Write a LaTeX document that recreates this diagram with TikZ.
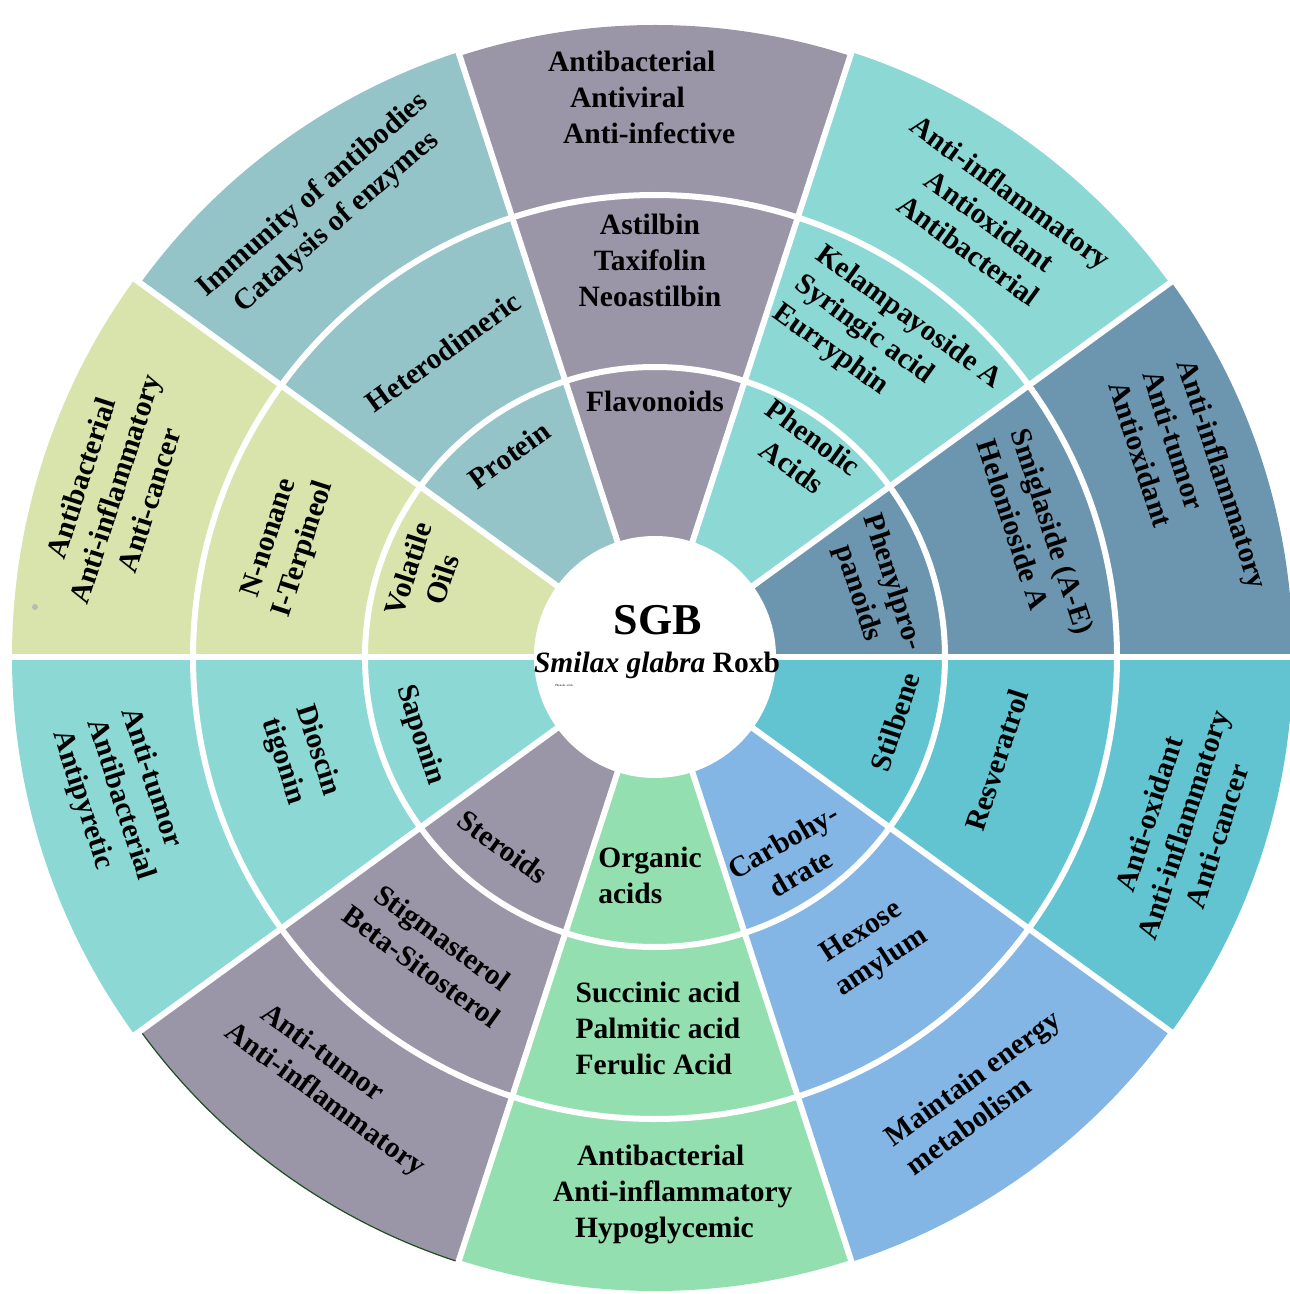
\documentclass[tikz,border=0pt]{standalone}
\usepackage{fontspec}
\setmainfont{Liberation Serif}
\begin{document}
\begin{tikzpicture}[x=1pt,y=1pt]
\definecolor{cflav}{HTML}{9A96A8}
\definecolor{cphen}{HTML}{8CD8D4}
\definecolor{cppd}{HTML}{6C96AF}
\definecolor{cstil}{HTML}{62C3D1}
\definecolor{ccarb}{HTML}{83B5E5}
\definecolor{corg}{HTML}{93DFB0}
\definecolor{cster}{HTML}{9A96A8}
\definecolor{csap}{HTML}{8CD8D4}
\definecolor{cvol}{HTML}{D8E4AB}
\definecolor{cprot}{HTML}{94C3C8}
\definecolor{cedge}{HTML}{1F4D1F}
\tikzset{
  txt/.style={font=\bfseries\fontsize{29.5}{36}\selectfont, align=center, inner sep=0pt},
  gap/.style={white, line width=6pt}
}
\useasboundingbox (-655,-637) rectangle (635,657);
% sectors
\foreach \a/\c/\r in {72/cflav/632, 36/cphen/636, 0/cppd/638, -36/cstil/638, -72/ccarb/636, -108/corg/634, -144/cster/636, 180/csap/643, 144/cvol/643, 108/cprot/636}
  \fill[\c] (0,0) -- (\a:\r) arc[start angle=\a, end angle=\a+36, radius=\r] -- cycle;
\draw[cedge, line width=1.2pt] (216:636) arc[start angle=216, end angle=252, radius=636];
% ring gaps
\draw[gap] (0,0) circle[radius=290];
\draw[gap] (0,0) circle[radius=462];
\foreach \a in {0,36,...,324} \draw[gap] (0,0) -- (\a:660);
\fill[gray!55] (-620,50) circle[radius=3];
% centre
\node[circle, fill=white, minimum size=242pt, inner sep=0pt] (core) at (0,0) {};
\node[font=\bfseries\fontsize{44}{50}\selectfont, inner sep=0pt] (sgb) at (3,37) {SGB};
\node[font=\bfseries\fontsize{29.5}{36}\selectfont, inner sep=0pt] (species) at (2,-8) {\textit{Smilax glabra} Roxb};
\node[font=\fontsize{3}{4}\selectfont, inner sep=0pt] (tiny) at (-91,-28) {Phenolic acids};
% Flavonoids
\node[txt] (fl1) at (0,256) {Flavonoids};
\node[txt] (fl2) at (-5,397) {Astilbin\\Taxifolin\\Neoastilbin};
\node[txt, align=left, anchor=west] (fl3) at (-107,560) {Antibacterial\\\hspace*{22pt}Antiviral\\\hspace*{15pt}Anti-infective};
% Phenolic acids
\node[txt, rotate=-36] (ph1) at (148,205) {Phenolic\\Acids};
\node[txt, rotate=-36, align=left] (ph2) at (232,310) {Kelampayoside A\\Syringic acid\\Eurryphin};
\node[txt, rotate=-36] (ph3) at (335,436) {Anti-inflammatory\\Antioxidant\\Antibacterial};
% Phenylpropanoids
\node[txt, rotate=-72] (pp1) at (220,69) {Phenylpro-\\panoids};
\node[txt, rotate=-72, align=left] (pp2) at (381,120) {Smiglaside (A-E)\\Helonioside A};
\node[txt, rotate=-72, align=left] (pp3) at (534,172) {Anti-inflammatory\\Anti-tumor\\Antioxidant};
% Stilbene
\node[txt, rotate=72] (st1) at (240,-65) {Stilbene};
\node[txt, rotate=72] (st2) at (342,-103) {Resveratrol};
\node[txt, rotate=72] (st3) at (528,-168) {Anti-oxidant\\Anti-inflammatory\\Anti-cancer};
% Carbohydrate
\node[txt, rotate=30] (cb1) at (137,-200) {Carbohy-\\drate};
\node[txt, rotate=33] (cb2) at (217,-291) {Hexose\\amylum};
\node[txt, rotate=36, align=left] (cb3) at (328,-435) {Maintain energy\\metabolism};
% Organic acids
\node[txt, align=left] (oa1) at (-5,-218) {Organic\\acids};
\node[txt, align=left] (oa2) at (3,-371) {Succinic acid\\Palmitic acid\\Ferulic Acid};
\node[txt, align=left, anchor=west] (oa3) at (-102,-538) {\hspace*{24pt}Antibacterial\\Anti-inflammatory\\\hspace*{22pt}Hypoglycemic};
% Steroids
\node[txt, rotate=-36] (sr1) at (-152,-190) {Steroids};
\node[txt, rotate=-36] (sr2) at (-223,-295) {Stigmasterol\\Beta-Sitosterol};
\node[txt, rotate=-36, align=left] (sr3) at (-320,-429) {\hspace*{18pt}Anti-tumor\\Anti-inflammatory};
% Saponin
\node[txt, rotate=-72] (sa1) at (-235,-78) {Saponin};
\node[txt, rotate=-72] (sa2) at (-355,-99) {Dioscin\\tigonin};
\node[txt, rotate=-72, align=left] (sa3) at (-535,-143) {Anti-tumor\\Antibacterial\\Antipyretic};
% Volatile oils
\node[txt, rotate=72] (vo1) at (-230,83) {Volatile\\Oils};
\node[txt, rotate=72] (vo2) at (-368,113) {N-nonane\\I-Terpineol};
\node[txt, rotate=72] (vo3) at (-540,168) {Antibacterial\\Anti-inflammatory\\Anti-cancer};
% Protein
\node[txt, rotate=36] (pr1) at (-146,202) {Protein};
\node[txt, rotate=36] (pr2) at (-212,305) {Heterodimeric};
\node[txt, rotate=41] (pr3) at (-330,448) {Immunity of antibodies\\Catalysis of enzymes};
\end{tikzpicture}
\end{document}
